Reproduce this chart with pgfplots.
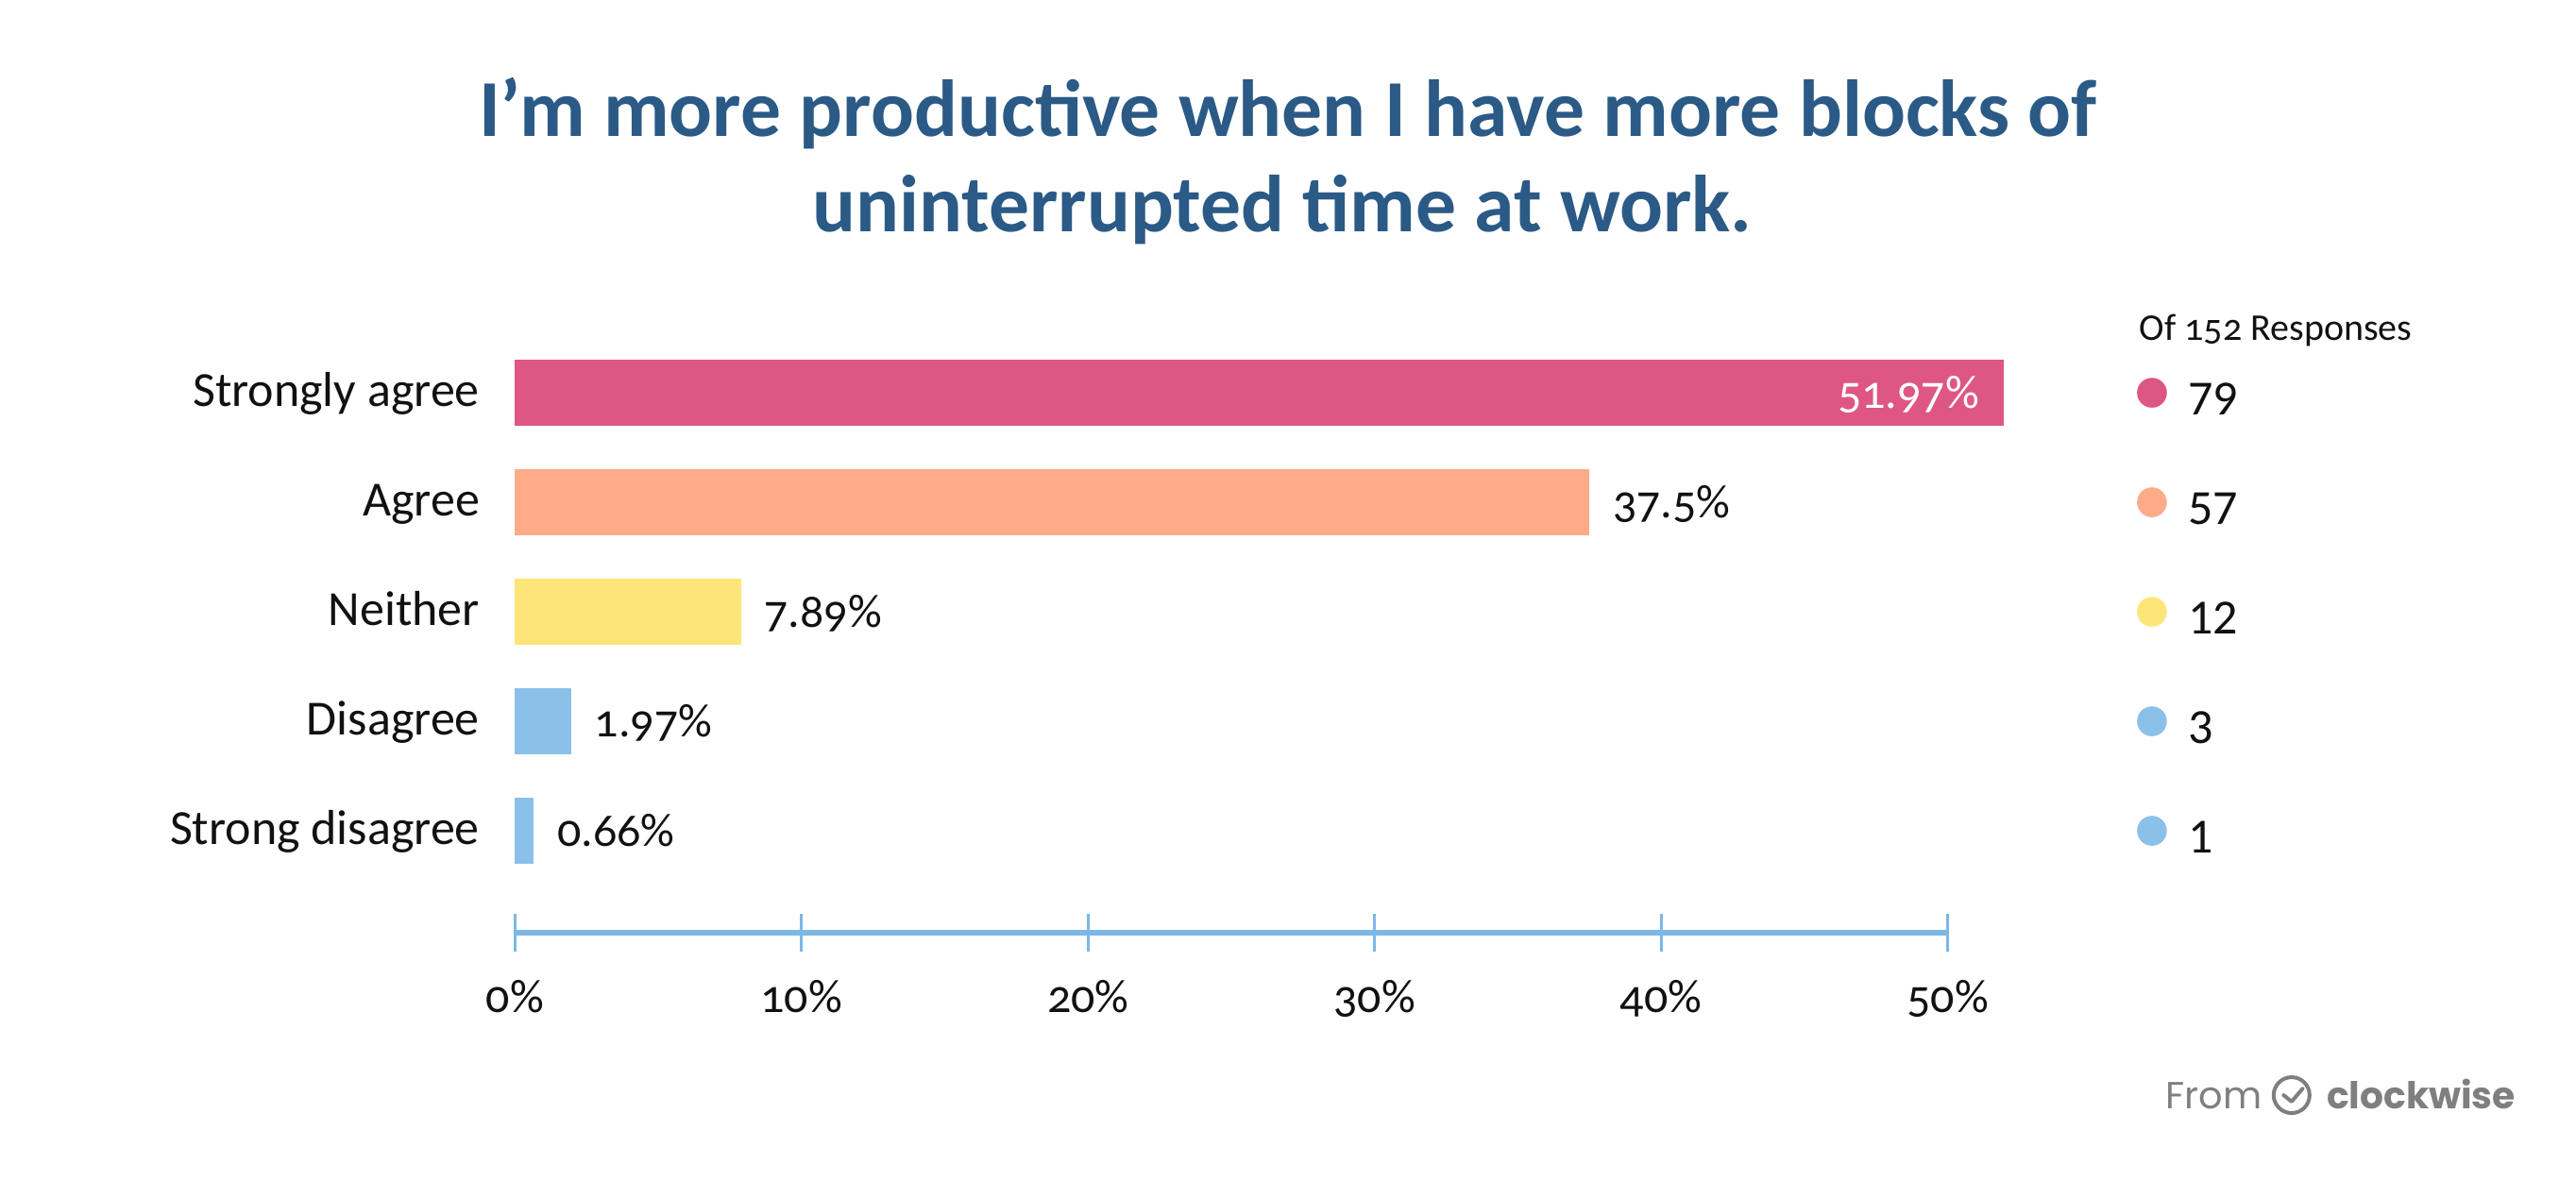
\documentclass[border=0pt]{standalone}
\usepackage{fontspec}
\setmainfont{Carlito}[Numbers=OldStyle]
\newfontfamily\poppins{Poppins}
\usepackage{pgfplots}
\pgfplotsset{compat=1.18}
\definecolor{cpink}{HTML}{DE5683}
\definecolor{csalmon}{HTML}{FFAB88}
\definecolor{cyellow}{HTML}{FEE577}
\definecolor{cblue}{HTML}{8BC0E8}
\definecolor{axisblue}{HTML}{7DB7E6}
\definecolor{titleblue}{HTML}{2B5A86}
\definecolor{logogray}{HTML}{7F7F7F}
\definecolor{txt}{HTML}{111111}
\begin{document}
\begin{tikzpicture}
\path[use as bounding box] (0pt,0pt) rectangle (682pt,-317pt);
\node[anchor=base, text=titleblue, font=\fontsize{21.4}{26}\selectfont\bfseries, inner sep=0pt] at (341pt,-36.1pt) {I’m more productive when I have more blocks of};
\node[anchor=base, text=titleblue, font=\fontsize{21.4}{26}\selectfont\bfseries, inner sep=0pt] at (339.5pt,-61.25pt) {uninterrupted time at work.};
\begin{axis}[
  at={(136.35pt,-247pt)}, anchor=south west,
  scale only axis, width=379.3pt, height=157.5pt,
  xmin=0, xmax=50, ymin=-0.931, ymax=4.5,
  clip=false,
  axis x line=bottom, axis y line=left,
  axis line style={-},
  x axis line style={draw=axisblue, line width=1.4pt},
  y axis line style={draw=none},
  xtick={0,10,20,30,40,50},
  xticklabels={0\%,10\%,20\%,30\%,40\%,50\%},
  ytick={0,1,2,3,4},
  yticklabels={Strong disagree,Disagree,Neither,Agree,Strongly agree},
  tick align=center, major tick length=10pt,
  xtick style={draw=axisblue, line width=0.8pt},
  ytick style={draw=none},
  tick label style={font=\fontsize{12.5}{15}\selectfont, text=txt, inner sep=0pt},
  xticklabel style={anchor=base, yshift=-16pt},
  yticklabel style={anchor=base east, yshift=-3.7pt, xshift=-4.2pt, font=\fontsize{13}{15}\selectfont},
  point meta=explicit symbolic,
  nodes near coords,
  nodes near coords style={font=\fontsize{12.5}{15}\selectfont, inner sep=0pt, text=txt},
]
\addplot[xbar, bar shift=0pt, bar width=0.6, fill=cpink, draw=none,
  nodes near coords style={anchor=base east, xshift=-6.4pt, yshift=-4pt, text=white}]
  coordinates {(51.97,4) [51.97\%]};
\addplot[xbar, bar shift=0pt, bar width=0.6, fill=csalmon, draw=none,
  nodes near coords style={anchor=base west, xshift=6pt, yshift=-4pt}]
  coordinates {(37.5,3) [37.5\%]};
\addplot[xbar, bar shift=0pt, bar width=0.6, fill=cyellow, draw=none,
  nodes near coords style={anchor=base west, xshift=6pt, yshift=-4pt}]
  coordinates {(7.89,2) [7.89\%]};
\addplot[xbar, bar shift=0pt, bar width=0.6, fill=cblue, draw=none,
  nodes near coords style={anchor=base west, xshift=6pt, yshift=-4pt}]
  coordinates {(1.97,1) [1.97\%]};
\addplot[xbar, bar shift=0pt, bar width=0.6, fill=cblue, draw=none,
  nodes near coords style={anchor=base west, xshift=6pt, yshift=-4pt}]
  coordinates {(0.66,0) [0.66\%]};
% legend: response counts
\addplot[only marks, mark=*, mark size=3.75pt, color=cpink,
  nodes near coords style={anchor=base west, xshift=9.4pt, yshift=-5.75pt, text=txt, font=\fontsize{13}{15}\selectfont\addfontfeature{Numbers=Lining}}]
  coordinates {(57.13,4) [79]};
\addplot[only marks, mark=*, mark size=3.75pt, color=csalmon,
  nodes near coords style={anchor=base west, xshift=9.4pt, yshift=-5.75pt, text=txt, font=\fontsize{13}{15}\selectfont\addfontfeature{Numbers=Lining}}]
  coordinates {(57.13,3) [57]};
\addplot[only marks, mark=*, mark size=3.75pt, color=cyellow,
  nodes near coords style={anchor=base west, xshift=9.4pt, yshift=-5.75pt, text=txt, font=\fontsize{13}{15}\selectfont\addfontfeature{Numbers=Lining}}]
  coordinates {(57.13,2) [12]};
\addplot[only marks, mark=*, mark size=3.75pt, color=cblue,
  nodes near coords style={anchor=base west, xshift=9.4pt, yshift=-5.75pt, text=txt, font=\fontsize{13}{15}\selectfont\addfontfeature{Numbers=Lining}}]
  coordinates {(57.13,1) [3]};
\addplot[only marks, mark=*, mark size=3.75pt, color=cblue,
  nodes near coords style={anchor=base west, xshift=9.4pt, yshift=-5.75pt, text=txt, font=\fontsize{13}{15}\selectfont\addfontfeature{Numbers=Lining}}]
  coordinates {(57.13,0) [1]};
\end{axis}
\node[anchor=base west, font=\fontsize{10}{12}\selectfont, text=txt, inner sep=0pt] at (566.25pt,-90pt) {Of 152 Responses};
\node[anchor=base west, font=\poppins\fontsize{10}{12}\selectfont, text=logogray, inner sep=0pt] at (573.2pt,-293.5pt) {From};
\draw[logogray, line width=1pt] (606.7pt,-290pt) circle (4.75pt);
\draw[logogray, line width=1pt, line cap=round, line join=round] (604.6pt,-290pt) -- (606.7pt,-291.7pt) -- (609.6pt,-288.3pt);
\node[anchor=base west, font=\poppins\fontsize{9.8}{12}\selectfont\bfseries, text=logogray, inner sep=0pt] at (615.8pt,-293.5pt) {clockwise};
\end{tikzpicture}
\end{document}
